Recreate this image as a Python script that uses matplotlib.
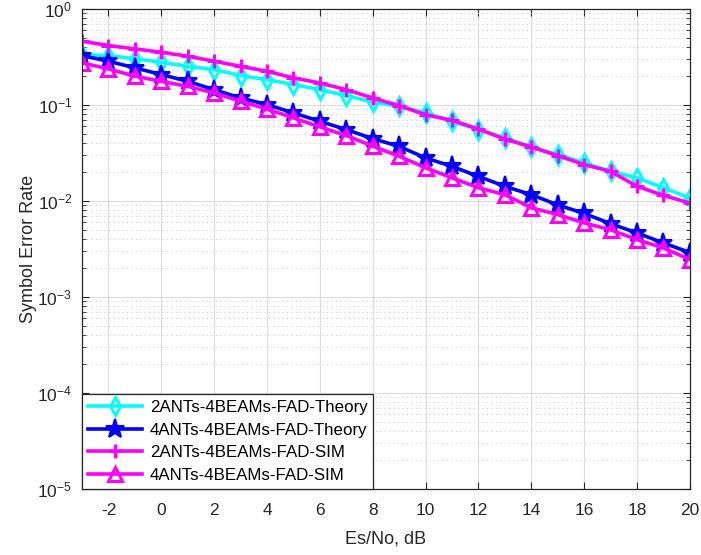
import matplotlib
matplotlib.use('Agg')
import matplotlib.pyplot as plt
import numpy as np
from matplotlib.ticker import LogLocator, NullFormatter

plt.rcParams['font.family'] = ['Liberation Sans', 'DejaVu Sans']
plt.rcParams['axes.unicode_minus'] = False

# Es/No grid, dB
esno = list(range(-3, 21))

# 2 antennas, theory (cyan diamonds)
ser_2ant_theory = [0.334, 0.326, 0.303, 0.278, 0.252, 0.233, 0.202, 0.183, 0.163,
                   0.144, 0.125, 0.107, 0.0967, 0.0825, 0.0675, 0.0553, 0.0453,
                   0.0365, 0.0303, 0.0249, 0.0203, 0.0174, 0.0137, 0.0107]
# 4 antennas, theory (blue stars)
ser_4ant_theory = [0.326, 0.285, 0.243, 0.207, 0.176, 0.144, 0.118, 0.1007, 0.0825,
                   0.0675, 0.0553, 0.0445, 0.037, 0.028, 0.0229, 0.018, 0.0142,
                   0.0116, 0.0091, 0.0074, 0.0058, 0.00464, 0.00365, 0.0029]
# 2 antennas, simulation (magenta +)
ser_2ant_sim = [0.46, 0.415, 0.383, 0.353, 0.321, 0.285, 0.252, 0.224, 0.191,
                0.169, 0.144, 0.118, 0.098, 0.079, 0.069, 0.056, 0.044, 0.0365,
                0.0296, 0.0239, 0.0203, 0.0142, 0.0114, 0.0095]
# 4 antennas, simulation (magenta triangles)
ser_4ant_sim = [0.274, 0.237, 0.199, 0.176, 0.156, 0.133, 0.109, 0.0908, 0.0732,
                0.059, 0.0479, 0.0372, 0.0292, 0.0221, 0.0174, 0.0137, 0.0116,
                0.0085, 0.0072, 0.0059, 0.0050, 0.00395, 0.00324, 0.00245]

labels = ['2ANTs-4BEAMs-FAD-Theory', '4ANTs-4BEAMs-FAD-Theory',
          '2ANTs-4BEAMs-FAD-SIM', '4ANTs-4BEAMs-FAD-SIM']

fig = plt.figure(figsize=(7.01, 5.55), dpi=100)
ax = fig.add_axes([0.117, 0.119, 0.867, 0.865])

lw = 2.6
ax.semilogy(esno, ser_2ant_theory, color='cyan', marker='d', ms=9, mew=2.2,
            mfc='none', lw=lw, label=labels[0])
ax.semilogy(esno, ser_4ant_theory, color='blue', marker='*', ms=14, mew=1.5,
            lw=lw, label=labels[1])
ax.semilogy(esno, ser_2ant_sim, color='magenta', marker='+', ms=10, mew=2.2,
            lw=lw, label=labels[2])
ax.semilogy(esno, ser_4ant_sim, color='magenta', marker='^', ms=10, mew=2.2,
            mfc='none', lw=lw, label=labels[3])

ax.set_xlim(-3, 20)
ax.set_ylim(1e-5, 1)
ax.set_xticks(range(-2, 21, 2))
ax.yaxis.set_major_locator(LogLocator(base=10, numticks=10))
ax.yaxis.set_minor_locator(LogLocator(base=10, subs=np.arange(2, 10), numticks=20))
ax.yaxis.set_minor_formatter(NullFormatter())

dark = '#262626'
ax.grid(True, which='major', color='#dcdcdc', lw=0.8, ls='-')
ax.grid(True, which='minor', axis='y', color='#cccccc', lw=0.8, ls=(0, (1, 3)))
ax.set_axisbelow(True)
ax.tick_params(which='both', direction='in', top=True, right=True, colors=dark,
               labelsize=12.5)
ax.tick_params(which='major', length=5)
ax.tick_params(which='minor', length=3)
ax.tick_params(axis='x', pad=10)
ax.tick_params(axis='y', pad=7)
for s in ax.spines.values():
    s.set_color(dark)
    s.set_linewidth(0.9)

ax.set_xlabel('Es/No, dB', fontsize=13, color=dark, labelpad=9)
ax.set_ylabel('Symbol Error Rate', fontsize=13, color=dark, labelpad=0)

leg = ax.legend(loc='lower left', fontsize=12.2, handlelength=3.2,
                labelspacing=0.45, borderaxespad=0, fancybox=False,
                framealpha=1, edgecolor=dark, borderpad=0.35, handletextpad=0.45)
leg.get_frame().set_linewidth(0.9)

fig.savefig('out.png', dpi=100)
